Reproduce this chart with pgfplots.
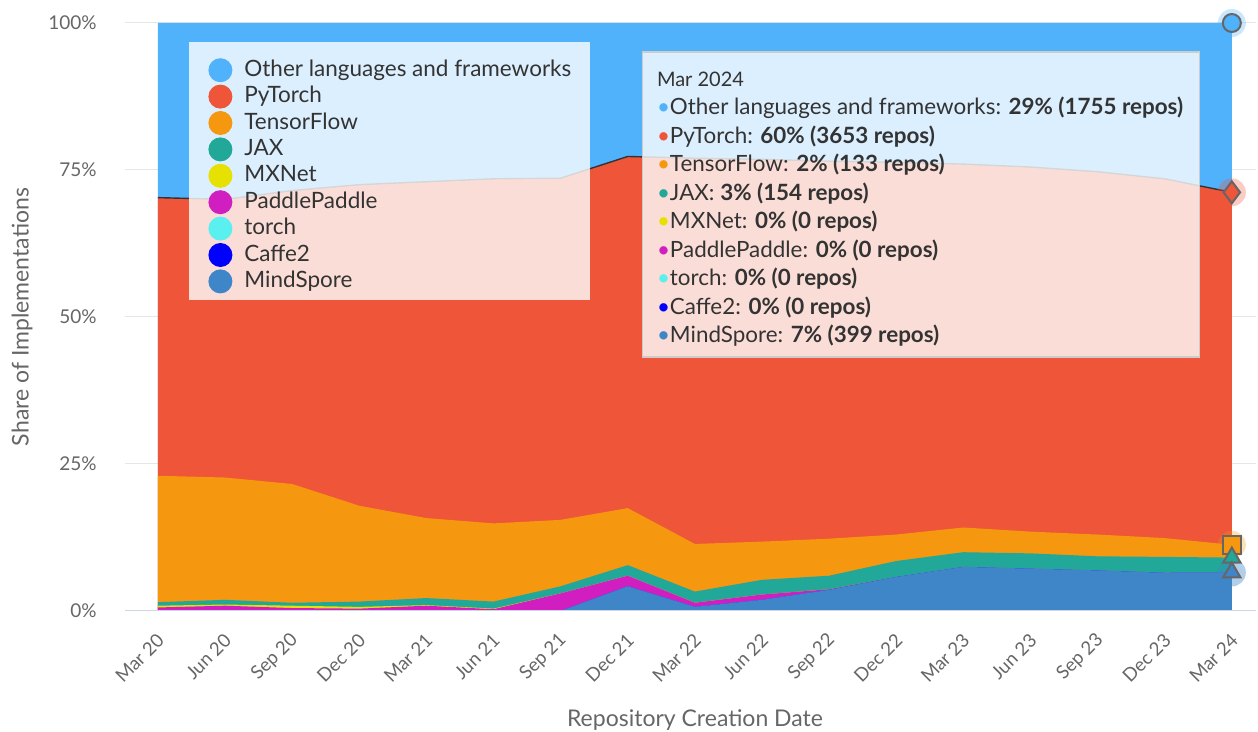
\documentclass[border=0pt]{standalone}
\usepackage{fontspec}
\setmainfont{Lato}
\usepackage{pgfplots}
\pgfplotsset{compat=1.18}
\definecolor{otherc}{RGB}{80,178,250}
\definecolor{ptc}{RGB}{239,85,56}
\definecolor{tfc}{RGB}{246,151,16}
\definecolor{jaxc}{RGB}{33,168,152}
\definecolor{mxc}{RGB}{230,225,0}
\definecolor{ppc}{RGB}{208,30,192}
\definecolor{torchc}{RGB}{90,240,240}
\definecolor{caffec}{RGB}{0,0,255}
\definecolor{msc}{RGB}{62,134,200}
\definecolor{gridc}{RGB}{230,230,230}
\definecolor{xlinec}{RGB}{204,214,235}
\definecolor{txtgray}{RGB}{102,102,102}
\definecolor{txtdark}{RGB}{51,51,51}
\definecolor{markgray}{RGB}{102,102,102}
\begin{document}
\begin{tikzpicture}
\useasboundingbox (-62.5pt,-60.5pt) rectangle (566.5pt,305.5pt);
\begin{axis}[
  at={(0pt,0pt)}, anchor=south west,
  scale only axis, width=565.5pt, height=294pt,
  xmin=-0.49, xmax=16.36, ymin=0, ymax=100,
  xtick={0,...,16},
  xticklabels={Mar 20,Jun 20,Sep 20,Dec 20,Mar 21,Jun 21,Sep 21,Dec 21,Mar 22,Jun 22,Sep 22,Dec 22,Mar 23,Jun 23,Sep 23,Dec 23,Mar 24},
  ytick={0,25,50,75,100},
  yticklabels={0\%,25\%,50\%,75\%,100\%},
  ymajorgrids, grid style={gridc, line width=0.5pt},
  axis line style={draw=none},
  major tick length=0pt,
  yticklabel style={font=\fontsize{9.5}{11}\selectfont, text=txtgray, anchor=east, inner sep=0pt, xshift=-14pt},
  xticklabel style={font=\fontsize{9.3}{11}\selectfont, text=txtgray, inner sep=0pt, xshift=1.5pt, yshift=-13pt, rotate=45, anchor=east},
  xlabel={Repository Creation Date},
  ylabel={Share of Implementations},
  every axis x label/.style={at={(rel axis cs:0.504,-0.185)}, anchor=center, font=\fontsize{11.5}{13}\selectfont, text=txtgray},
  every axis y label/.style={at={(rel axis cs:-0.091,0.5)}, rotate=90, anchor=center, font=\fontsize{11.5}{13}\selectfont, text=txtgray},
  legend image code/.code={\path[#1, draw=none, fill opacity=1] (6pt,0pt) circle (6pt); \path (0pt,10.5pt);},
  legend cell align=left,
  legend style={at={(rel axis cs:0.0566,0.968)}, anchor=north west, fill=white, fill opacity=0.8, text opacity=1, draw=none,
    font=\fontsize{11.25}{13}\selectfont, text=txtdark, inner xsep=9.5pt, inner ysep=3.5pt,
    nodes={inner sep=0pt, text height=8.5pt, text depth=2.5pt}, row sep=-3.3pt, column sep=6pt},
]
% cumulative tops, drawn from the top series down
\addplot[fill=otherc, draw=none] coordinates {(0,100)(1,100)(2,100)(3,100)(4,100)(5,100)(6,100)(7,100)(8,100)(9,100)(10,100)(11,100)(12,100)(13,100)(14,100)(15,100)(16,100)} \closedcycle;
\addlegendentry{Other languages and frameworks}
\addplot[fill=ptc, draw=none] coordinates {(0,70.3)(1,70.0)(2,71.5)(3,72.5)(4,73.0)(5,73.5)(6,73.6)(7,77.3)(8,77.0)(9,76.8)(10,76.5)(11,76.3)(12,76.0)(13,75.5)(14,74.7)(15,73.5)(16,71.2)} \closedcycle;
\addlegendentry{PyTorch}
\addplot[fill=tfc, draw=none] coordinates {(0,23.0)(1,22.7)(2,21.6)(3,17.9)(4,15.8)(5,14.9)(6,15.5)(7,17.5)(8,11.4)(9,11.8)(10,12.3)(11,13.0)(12,14.2)(13,13.5)(14,13.0)(15,12.4)(16,11.26)} \closedcycle;
\addlegendentry{TensorFlow}
\addplot[fill=jaxc, draw=none] coordinates {(0,1.5)(1,1.9)(2,1.4)(3,1.6)(4,2.2)(5,1.6)(6,4.2)(7,7.8)(8,3.3)(9,5.3)(10,6.0)(11,8.5)(12,10.0)(13,9.8)(14,9.3)(15,9.2)(16,9.08)} \closedcycle;
\addlegendentry{JAX}
\addplot[fill=mxc, draw=none] coordinates {(0,0.9)(1,1.1)(2,0.9)(3,0.7)(4,1.0)(5,0.4)(6,3.0)(7,6.0)(8,1.4)(9,2.8)(10,3.7)(11,5.8)(12,7.5)(13,7.2)(14,6.9)(15,6.5)(16,6.55)} \closedcycle;
\addlegendentry{MXNet}
\addplot[fill=ppc, draw=none] coordinates {(0,0.6)(1,0.9)(2,0.5)(3,0.4)(4,0.9)(5,0.3)(6,3.0)(7,6.0)(8,1.4)(9,2.8)(10,3.7)(11,5.8)(12,7.5)(13,7.2)(14,6.9)(15,6.5)(16,6.55)} \closedcycle;
\addlegendentry{PaddlePaddle}
\addplot[fill=torchc, draw=none] coordinates {(0,0)(1,0)(2,0)(3,0)(4,0)(5,0)(6,0)(7,4.2)(8,0.7)(9,1.9)(10,3.6)(11,5.8)(12,7.5)(13,7.2)(14,6.9)(15,6.5)(16,6.55)} \closedcycle;
\addlegendentry{torch}
\addplot[fill=caffec, draw=none] coordinates {(0,0)(1,0)(2,0)(3,0)(4,0)(5,0)(6,0)(7,4.2)(8,0.7)(9,1.9)(10,3.6)(11,5.8)(12,7.5)(13,7.2)(14,6.9)(15,6.5)(16,6.55)} \closedcycle;
\addlegendentry{Caffe2}
\addplot[fill=msc, draw=none] coordinates {(0,0)(1,0)(2,0)(3,0)(4,0)(5,0)(6,0)(7,4.2)(8,0.7)(9,1.9)(10,3.6)(11,5.8)(12,7.5)(13,7.2)(14,6.9)(15,6.5)(16,6.55)} \closedcycle;
\addlegendentry{MindSpore}
% boundary line of PyTorch
\addplot[forget plot, draw=txtdark, line width=0.7pt] coordinates {(0,70.3)(1,70.0)(2,71.5)(3,72.5)(4,73.0)(5,73.5)(6,73.6)(7,77.3)(8,77.0)(9,76.8)(10,76.5)(11,76.3)(12,76.0)(13,75.5)(14,74.7)(15,73.5)(16,71.2)};
% hover halos and markers at Mar 24
\addplot[forget plot, only marks, color=otherc, mark=*, mark size=7pt, mark options={fill=otherc, draw opacity=0, fill opacity=0.3}] coordinates {(16,100)};
\addplot[forget plot, only marks, color=ptc, mark=*, mark size=7pt, mark options={fill=ptc, draw opacity=0, fill opacity=0.3}] coordinates {(16,71.2)};
\addplot[forget plot, only marks, color=tfc, mark=*, mark size=7pt, mark options={fill=tfc, draw opacity=0, fill opacity=0.3}] coordinates {(16,11.26)};
\addplot[forget plot, only marks, color=msc, mark=*, mark size=7pt, mark options={fill=msc, draw opacity=0, fill opacity=0.4}] coordinates {(16,6.55)};
\addplot[forget plot, only marks, mark=*, mark size=4.5pt, mark options={fill=otherc, draw=markgray, line width=1pt}] coordinates {(16,100)};
\addplot[forget plot, only marks, mark=diamond*, mark size=5.5pt, mark options={fill=ptc, draw=markgray, line width=1pt}] coordinates {(16,71.2)};
\addplot[forget plot, only marks, mark=square*, mark size=4.5pt, mark options={fill=tfc, draw=markgray, line width=1pt}] coordinates {(16,11.26)};
\addplot[forget plot, only marks, mark=triangle*, mark size=5pt, mark options={fill=jaxc, draw=markgray, line width=1pt}] coordinates {(16,9.08)};
\addplot[forget plot, only marks, mark=triangle*, mark size=5pt, mark options={fill=msc, draw=markgray, line width=1pt}] coordinates {(16,6.55)};
% x axis line
\draw[xlinec, line width=0.7pt] (rel axis cs:0,0) -- (rel axis cs:1,0);
% tooltip
\fill[white, fill opacity=0.8] (axis cs:7.225,95.07) rectangle (axis cs:15.52,43.2);
\draw[black!20, line width=0.6pt] (axis cs:7.225,95.07) rectangle (axis cs:15.52,43.2);
\node[anchor=north west, align=left, text=txtdark, font=\fontsize{11.2}{14.25}\selectfont, inner sep=0pt] at (axis cs:7.43,91.8) {%
{\fontsize{10}{14.25}\selectfont Mar 2024}\\
{\color{otherc}•}Other languages and frameworks: \textbf{29\% (1755 repos)}\\
{\color{ptc}•}PyTorch: \textbf{60\% (3653 repos)}\\
{\color{tfc}•}TensorFlow: \textbf{2\% (133 repos)}\\
{\color{jaxc}•}JAX: \textbf{3\% (154 repos)}\\
{\color{mxc}•}MXNet: \textbf{0\% (0 repos)}\\
{\color{ppc}•}PaddlePaddle: \textbf{0\% (0 repos)}\\
{\color{torchc}•}torch: \textbf{0\% (0 repos)}\\
{\color{caffec}•}Caffe2: \textbf{0\% (0 repos)}\\
{\color{msc}•}MindSpore: \textbf{7\% (399 repos)}};
\end{axis}
\end{tikzpicture}
\end{document}
